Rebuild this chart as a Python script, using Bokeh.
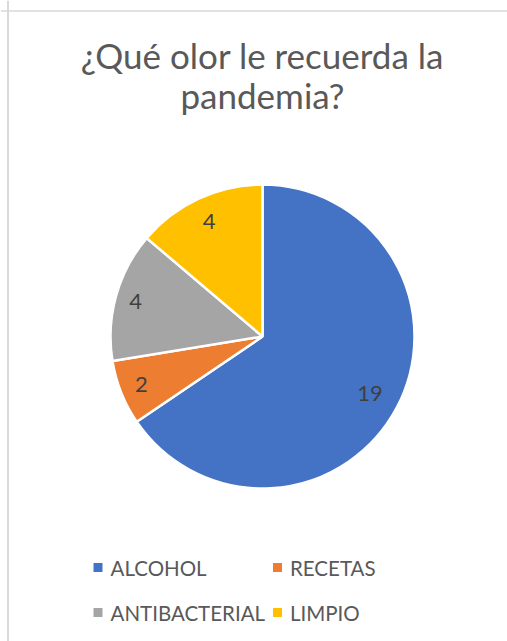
import math
from bokeh.plotting import figure
from bokeh.models import ColumnDataSource, Label, Span
from bokeh.core.properties import value
from bokeh.embed import file_html
from bokeh.resources import INLINE

# ---- data ----
categories = ["ALCOHOL", "RECETAS", "ANTIBACTERIAL", "LIMPIO"]
counts = [19, 2, 4, 4]
colors = ["#4472C4", "#ED7D31", "#A5A5A5", "#FFC000"]
title_lines = ["¿Qué olor le recuerda la", "pandemia?"]

FONT = "Lato"
W, H = 507, 641

p = figure(width=W, height=H, output_backend="svg", toolbar_location=None,
           x_range=(0, W), y_range=(0, H), min_border=0,
           background_fill_color="white", border_fill_color="white")
p.axis.visible = False
p.grid.visible = False
p.outline_line_color = None

# chart-area border (only left and top edges are visible in the crop)
p.add_layout(Span(location=7.5, dimension="height", line_color="#D9D9D9", line_width=2))
p.add_layout(Span(location=H - 10.5, dimension="width", line_color="#D9D9D9", line_width=1.5))

# ---- pie ----
cx, cy, r = 262, 305, 152
total = sum(counts)
starts, ends, lx, ly = [], [], [], []
acc = 0.0
for v in counts:
    a0 = math.pi / 2 - 2 * math.pi * acc / total
    a1 = math.pi / 2 - 2 * math.pi * (acc + v) / total
    starts.append(a0)
    ends.append(a1)
    mid = (a0 + a1) / 2
    # place label inside the slice, near the edge, allowing for the label's size
    tw, th = 11 * len(str(v)), 18
    half = abs(math.cos(mid)) * tw / 2 + abs(math.sin(mid)) * th / 2
    lr = r - 8 - 1.6 * half
    lx.append(cx + lr * math.cos(mid))
    ly.append(cy + lr * math.sin(mid))
    acc += v

src = ColumnDataSource(dict(cat=categories, val=counts, col=colors,
                            start=starts, end=ends, lx=lx, ly=ly,
                            txt=[str(v) for v in counts]))
p.wedge(x=cx, y=cy, radius=r, start_angle="start", end_angle="end",
        direction="clock", fill_color="col", line_color="white", line_width=2.5,
        source=src)
p.text(x="lx", y="ly", text="txt", source=src, text_align="center",
       text_baseline="middle", text_font=value(FONT), text_font_size="22px",
       text_color="#404040")

# ---- title ----
for i, t in enumerate(title_lines):
    p.add_layout(Label(x=cx, y=587 - i * 40.5, text=t, text_align="center",
                       text_baseline="alphabetic", text_font=FONT,
                       text_font_size="35px", text_color="#595959"))

# ---- legend (2 columns) ----
sq_x = [97.5 + (i % 2) * 179.5 for i in range(len(categories))]
sq_y = [74 - (i // 2) * 45 for i in range(len(categories))]
lsrc = ColumnDataSource(dict(x=sq_x, y=sq_y, tx=[x + 12.5 for x in sq_x],
                             cat=categories, col=colors))
p.scatter(x="x", y="y", marker="square", size=9, fill_color="col",
          line_color=None, source=lsrc)
p.text(x="tx", y="y", text="cat", source=lsrc, text_align="left",
       text_baseline="middle", text_font=value(FONT), text_font_size="20.5px",
       text_color="#595959")

open("out.html", "w").write(file_html(p, INLINE))
